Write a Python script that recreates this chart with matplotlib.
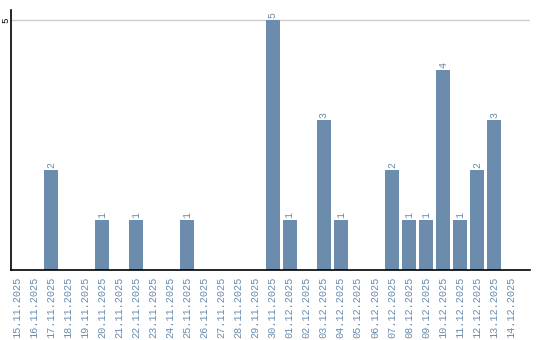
import matplotlib
matplotlib.use("Agg")
import matplotlib.pyplot as plt

dates = ["15.11.2025", "16.11.2025", "17.11.2025", "18.11.2025", "19.11.2025",
         "20.11.2025", "21.11.2025", "22.11.2025", "23.11.2025", "24.11.2025",
         "25.11.2025", "26.11.2025", "27.11.2025", "28.11.2025", "29.11.2025",
         "30.11.2025", "01.12.2025", "02.12.2025", "03.12.2025", "04.12.2025",
         "05.12.2025", "06.12.2025", "07.12.2025", "08.12.2025", "09.12.2025",
         "10.12.2025", "11.12.2025", "12.12.2025", "13.12.2025", "14.12.2025"]
counts = [0, 0, 2, 0, 0, 1, 0, 1, 0, 0, 1, 0, 0, 0, 0,
          5, 1, 0, 3, 1, 0, 0, 2, 1, 1, 4, 1, 2, 3, 0]

bar_color = "#6b8cac"
label_color = "#6a8caf"
font = "Liberation Mono"

fig = plt.figure(figsize=(5.4, 3.4), dpi=100)
ax = fig.add_axes([0.0204, 0.206, 0.9611, 0.764])

x = list(range(len(dates)))
ax.bar(x, counts, width=0.82, color=bar_color, zorder=2)

# value labels above non-empty bars
for xi, c in zip(x, counts):
    if c > 0:
        ax.text(xi, c + 0.04, str(c), rotation=90, ha="center", va="bottom",
                fontsize=7.2, family=font, color=label_color)

ax.set_xlim(-0.35, 30.1)
ax.set_ylim(0, 5.2)
ax.set_xticks(x)
ax.set_xticklabels(dates, rotation=90, fontsize=7.4, family=font, color=label_color)
ax.set_yticks([5])
ax.set_yticklabels(["5"], rotation=90, va="center", fontsize=6.5, family=font)
ax.tick_params(axis="x", length=0, pad=5)
ax.tick_params(axis="y", length=0, pad=0.5)

ax.grid(axis="y", color="#cccccc", linewidth=1, zorder=0)
ax.spines["top"].set_visible(False)
ax.spines["right"].set_visible(False)
ax.spines["left"].set_linewidth(1.2)
ax.spines["bottom"].set_linewidth(1.2)

fig.savefig("out.png", dpi=100)
